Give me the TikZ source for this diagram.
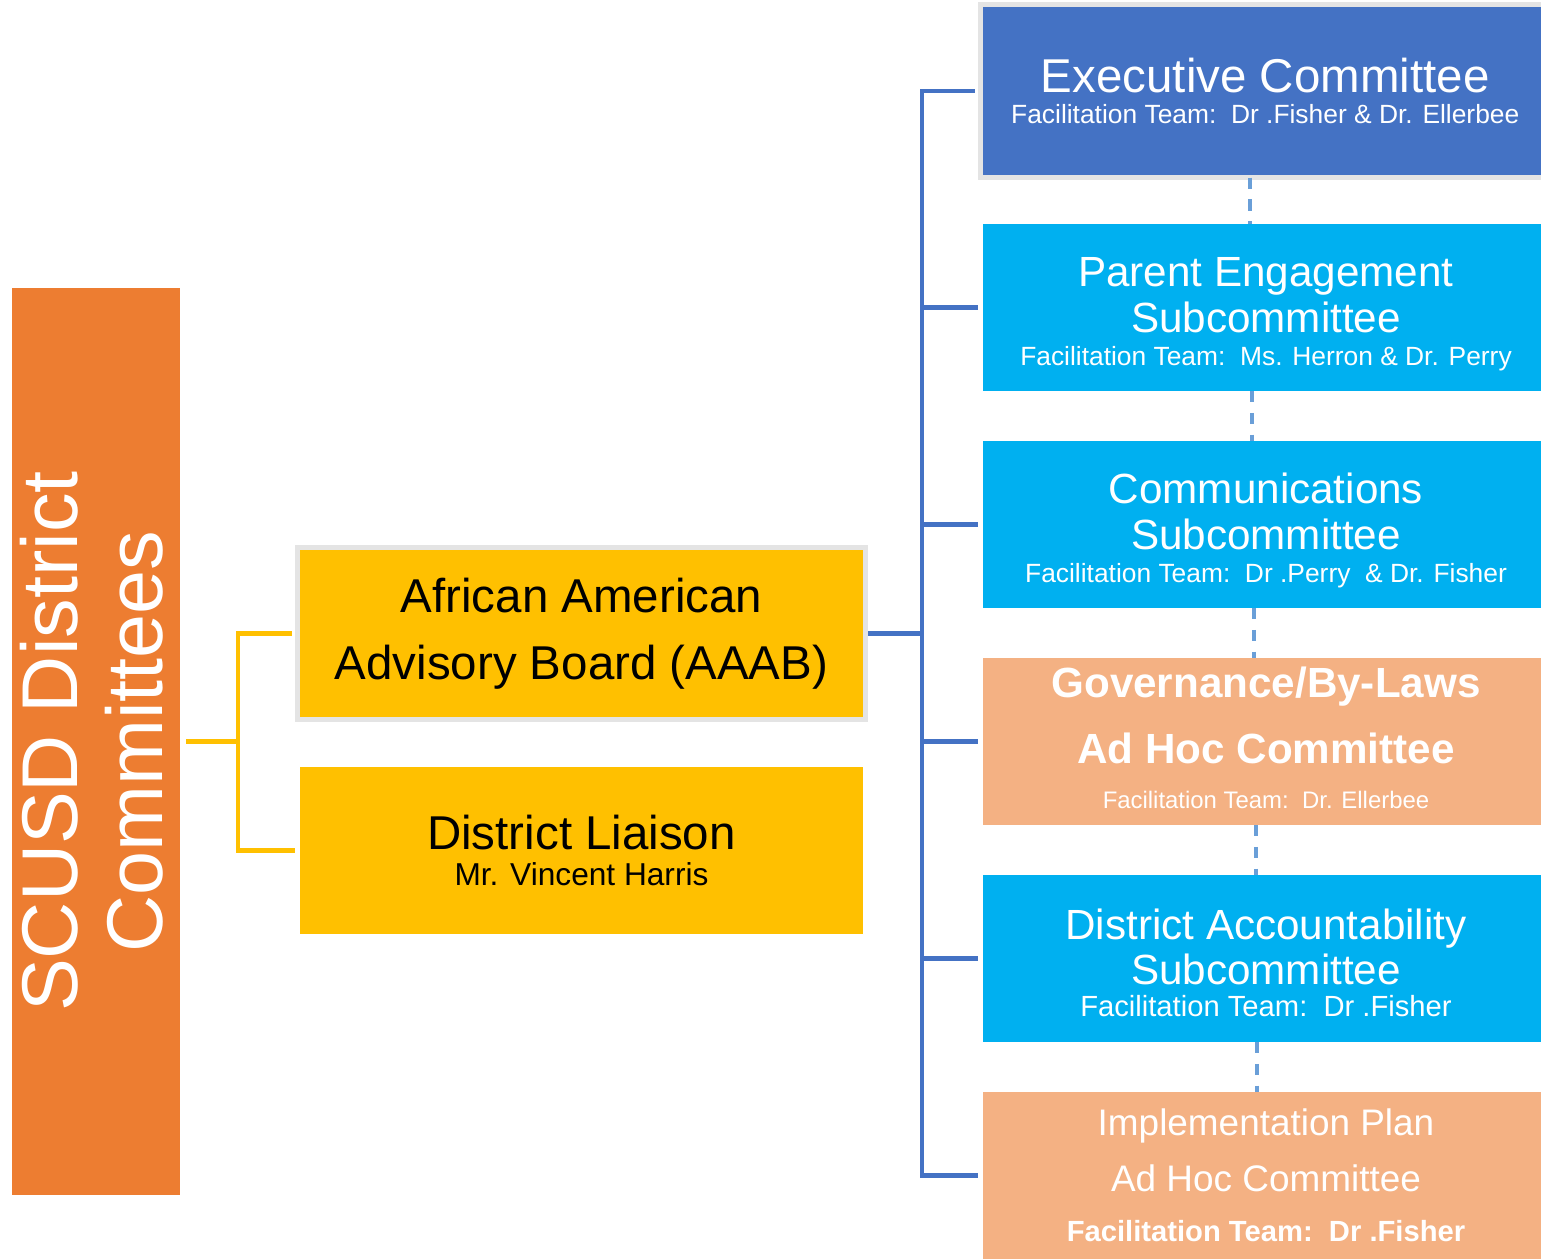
\documentclass[tikz,border=0pt]{standalone}
\usepackage{fontspec}
\setmainfont{Liberation Sans}
\definecolor{scorange}{HTML}{ED7D31}
\definecolor{scyellow}{HTML}{FFC000}
\definecolor{scblue}{HTML}{4472C4}
\definecolor{sccyan}{HTML}{00B0F0}
\definecolor{scpeach}{HTML}{F4B183}
\definecolor{scdash}{HTML}{6A9FD8}
\definecolor{scframe}{HTML}{E4E4E4}
\newcommand\teamsize[1]{\fontsize{#1}{#1}\selectfont}
\newcommand\topstrut[1]{\rule{0pt}{#1}}
\newcommand\footstrut[1]{\rule[-#1]{0pt}{0pt}}
\begin{document}
\begin{tikzpicture}[x=0.01cm,y=-0.01cm,
  every node/.style={inner sep=0pt,outer sep=0pt,align=center},
  sidebox/.style={minimum width=5.66cm,minimum height=1.67cm,text=white},
  midbox/.style={minimum width=5.63cm,minimum height=1.67cm,fill=scyellow},
  bluelink/.style={scblue,line width=1.15pt},
  yellowlink/.style={scyellow,line width=1.15pt},
  dashlink/.style={scdash,line width=0.9pt,dash pattern=on 3.2pt off 3pt}]
\useasboundingbox (0,0) rectangle (1541,1260);

% left bar, turned upright
\node[fill=scorange,text=white,rotate=90,minimum width=9.07cm,minimum height=1.68cm,
  font=\fontsize{22.5pt}{24.2pt}\selectfont] (scusd) at (96,741.5) {SCUSD District\\Committees\footstrut{2.8pt}};

\node[midbox,draw=scframe,line width=1.4pt,minimum width=5.68cm,minimum height=1.72cm,
  font=\fontsize{13.5pt}{19.1pt}\selectfont] (aaab) at (581.5,633.5) {African American\\Advisory Board (AAAB)};
\node[midbox,font=\fontsize{13.5pt}{10.2pt}\selectfont] (liaison) at (581.5,850.5)
  {District Liaison\\{\teamsize{9pt}Mr. Vincent Harris}};

% committees on the right
\node[sidebox,fill=scblue,draw=scframe,line width=1.4pt,minimum width=5.695cm,minimum height=1.73cm,
  font=\fontsize{13.5pt}{8.8pt}\selectfont] (exec) at (1265.25,91)
  {Executive Committee\\{\teamsize{7.5pt}Facilitation Team:\ \ Dr .Fisher \& Dr. Ellerbee}};
\node[sidebox,fill=sccyan,font=\fontsize{12pt}{13.1pt}\selectfont] (parent) at (1266,307.5)
  {\topstrut{12.2pt}Parent Engagement\\Subcommittee\\[-3.7pt]{\teamsize{7.5pt}Facilitation Team:\ \ Ms. Herron \& Dr. Perry}};
\node[sidebox,fill=sccyan,font=\fontsize{12pt}{13.1pt}\selectfont] (comm) at (1266,524.5)
  {\topstrut{12.2pt}Communications\\Subcommittee\\[-3.7pt]{\teamsize{7.5pt}Facilitation Team:\ \ Dr .Perry\ \ \& Dr. Fisher}};
\node[sidebox,fill=scpeach,font=\fontsize{12pt}{18.8pt}\selectfont\bfseries] (gov) at (1266,741.5)
  {Governance/By-Laws\\Ad Hoc Committee\\[-6pt]{\mdseries\teamsize{6.8pt}Facilitation Team:\ \ Dr. Ellerbee\footstrut{2.3pt}}};
\node[sidebox,fill=sccyan,font=\fontsize{12pt}{12.8pt}\selectfont] (acct) at (1266,958.5)
  {\topstrut{11pt}District Accountability\\Subcommittee\\[-3.7pt]{\teamsize{8.3pt}Facilitation Team:\ \ Dr .Fisher}};
\node[sidebox,fill=scpeach,font=\fontsize{10.5pt}{15.9pt}\selectfont] (impl) at (1266,1175.5)
  {Implementation Plan\\Ad Hoc Committee\\[-1.7pt]{\bfseries\teamsize{8.3pt}Facilitation Team:\ \ Dr .Fisher}};

\coordinate (fork) at (238,741.5);
\coordinate (trunk) at (922,633.5);

\draw[yellowlink,shorten <=1.7pt] (scusd.south) -- (fork);
\draw[yellowlink,shorten >=1.5pt] (fork) |- (aaab.west);
\draw[yellowlink,shorten >=1.5pt] (fork) |- (liaison.west);

\draw[bluelink,shorten <=0.7pt] (aaab.east) -- (trunk);
\foreach \n in {exec,parent,comm,gov,acct,impl}
  \draw[bluelink,shorten >=1.5pt] (trunk) |- (\n.west);

\draw[dashlink] (exec.south -| 1250,0) -- (parent.north -| 1250,0);
\draw[dashlink] (parent.south -| 1252,0) -- (comm.north -| 1252,0);
\draw[dashlink] (comm.south -| 1254,0) -- (gov.north -| 1254,0);
\draw[dashlink] (gov.south -| 1256,0) -- (acct.north -| 1256,0);
\draw[dashlink] (acct.south -| 1257,0) -- (impl.north -| 1257,0);
\end{tikzpicture}
\end{document}
